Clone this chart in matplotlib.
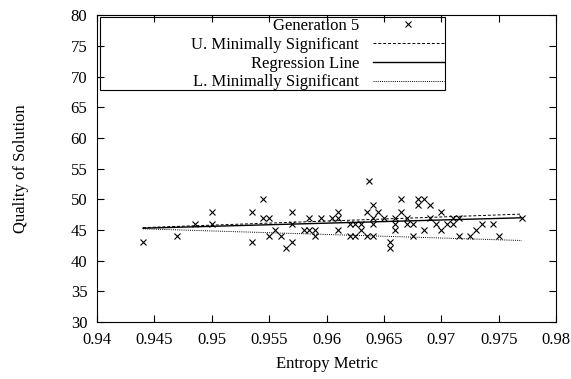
import matplotlib
matplotlib.use("Agg")
import matplotlib.pyplot as plt
from matplotlib.patches import Rectangle
from matplotlib.ticker import FuncFormatter

plt.rcParams["font.family"] = ["Liberation Serif", "DejaVu Serif"]

# scatter points (entropy metric, quality of solution)
gen_x = [0.944, 0.947, 0.9485, 0.950, 0.950, 0.9535, 0.9535, 0.9545, 0.9545, 0.955,
         0.955, 0.9555, 0.956, 0.9565, 0.957, 0.957, 0.957, 0.958, 0.9585, 0.9585,
         0.959, 0.959, 0.9595, 0.9605, 0.961, 0.961, 0.961, 0.962, 0.9625, 0.962,
         0.9625, 0.963, 0.963, 0.9635, 0.9635, 0.9637, 0.964, 0.964, 0.964, 0.964,
         0.9645, 0.965, 0.9655, 0.9655, 0.966, 0.966, 0.966, 0.9665, 0.9665, 0.967,
         0.967, 0.9675, 0.9675, 0.968, 0.968, 0.9685, 0.9685, 0.969, 0.969, 0.9695,
         0.970, 0.970, 0.9705, 0.971, 0.971, 0.9715, 0.9715, 0.9725, 0.973, 0.9735,
         0.9745, 0.975, 0.977]
gen_y = [43, 44, 46, 46, 48, 48, 43, 47, 50, 47,
         44, 45, 44, 42, 43, 48, 46, 45, 47, 45,
         44, 45, 47, 47, 47, 48, 45, 44, 46, 46,
         44, 45, 46, 48, 44, 53, 49, 47, 46, 44,
         48, 47, 43, 42, 45, 47, 46, 48, 50, 46,
         47, 44, 46, 50, 49, 50, 45, 49, 47, 46,
         45, 48, 46, 46, 47, 44, 47, 44, 45, 46,
         46, 44, 47]

line_x = [0.944, 0.977]
upper_y = [45.4, 47.6]
reg_y = [45.3, 47.0]
lower_y = [45.2, 43.3]

fig = plt.figure(figsize=(5.71, 3.79), dpi=100)
ax = fig.add_axes([0.170, 0.150, 0.804, 0.810])

ax.plot(gen_x, gen_y, linestyle="none", marker="x", color="black",
        markersize=4.5, markeredgewidth=0.8, label="Generation 5")
ax.plot(line_x, upper_y, color="black", linewidth=0.7, linestyle=(0, (3, 2)),
        label="U. Minimally Significant")
ax.plot(line_x, reg_y, color="black", linewidth=1.0, label="Regression Line")
ax.plot(line_x, lower_y, color="black", linewidth=0.7, linestyle=(0, (1, 1.2)),
        label="L. Minimally Significant")

ax.set_xlim(0.94, 0.98)
ax.set_ylim(30, 80)
ax.set_xticks([0.94, 0.945, 0.95, 0.955, 0.96, 0.965, 0.97, 0.975, 0.98])
ax.set_yticks(range(30, 81, 5))
ax.xaxis.set_major_formatter(FuncFormatter(lambda v, p: "%g" % round(v, 3)))
ax.tick_params(direction="in", top=True, right=True, labelsize=12, length=5, width=0.8)
ax.tick_params(axis="x", pad=7)
ax.tick_params(axis="y", pad=7)
for s in ax.spines.values():
    s.set_linewidth(0.8)

ax.set_xlabel("Entropy Metric", fontsize=12, labelpad=6)
ax.set_ylabel("Quality of Solution", fontsize=12, labelpad=30)

# gnuplot-style key: box drawn separately, labels right-aligned
ax.add_patch(Rectangle((0.0065, 0.7557), 0.7515, 0.2378, transform=ax.transAxes,
                       fill=False, edgecolor="black", linewidth=0.8, zorder=5))
leg = ax.legend(loc="upper right", bbox_to_anchor=(0.758, 0.9935), borderaxespad=0,
                frameon=False, markerfirst=False, fontsize=12, handlelength=4.3,
                labelspacing=0.17, borderpad=0.05, handletextpad=0.8)

fig.savefig("out.png", dpi=100)
